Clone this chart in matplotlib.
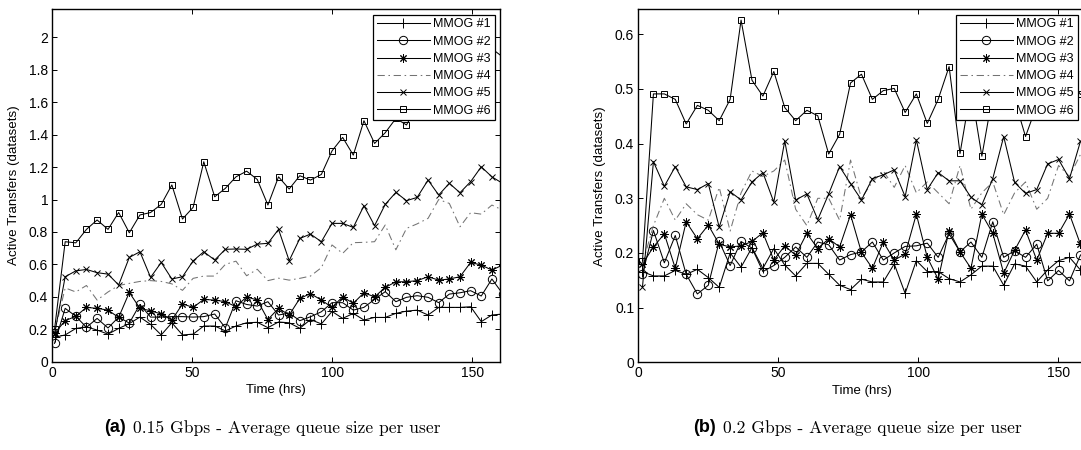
import numpy as np
import matplotlib
matplotlib.use('Agg')
import matplotlib.pyplot as plt

plt.rcParams['font.family'] = ['Liberation Sans', 'DejaVu Sans']

# sample times (hrs) of the two runs
hours_a = [0.8, 4.6, 8.4, 12.2, 16.0, 19.9, 23.7, 27.5, 31.3, 35.1, 38.9, 42.7, 46.5, 50.3,
           54.1, 58.0, 61.8, 65.6, 69.4, 73.2, 77.0, 80.8, 84.6, 88.4, 92.2, 96.1, 99.9,
           103.7, 107.5, 111.3, 115.1, 118.9, 122.7, 126.5, 130.3, 134.2, 138.0, 141.8,
           145.6, 149.4, 153.2, 157.0, 160.8]
hours_b = [1.5, 5.4, 9.3, 13.2, 17.1, 21.1, 25.0, 28.9, 32.8, 36.7, 40.6, 44.5, 48.4, 52.3,
           56.2, 60.2, 64.1, 68.0, 71.9, 75.8, 79.7, 83.6, 87.5, 91.4, 95.3, 99.3, 103.2,
           107.1, 111.0, 114.9, 118.8, 122.7, 126.6, 130.5, 134.4, 138.3, 142.3, 146.2,
           150.1, 154.0, 157.9, 161.8]

labels = ['MMOG #1', 'MMOG #2', 'MMOG #3', 'MMOG #4', 'MMOG #5', 'MMOG #6']

# (a) 0.15 Gbps
mmog1_a = [0.15, 0.165, 0.205, 0.215, 0.195, 0.17, 0.205, 0.235, 0.275, 0.23, 0.165, 0.24, 0.165,
           0.17, 0.22, 0.22, 0.19, 0.22, 0.24, 0.243, 0.21, 0.245, 0.24, 0.206, 0.26, 0.233, 0.31,
           0.267, 0.298, 0.257, 0.273, 0.273, 0.298, 0.312, 0.318, 0.288, 0.335, 0.335, 0.335,
           0.339, 0.247, 0.288, 0.294]
mmog2_a = [0.113, 0.329, 0.28, 0.212, 0.267, 0.208, 0.275, 0.238, 0.353, 0.275, 0.275, 0.278, 0.278,
           0.275, 0.278, 0.294, 0.209, 0.376, 0.353, 0.343, 0.37, 0.288, 0.30, 0.253, 0.277, 0.308,
           0.364, 0.364, 0.318, 0.335, 0.384, 0.432, 0.37, 0.397, 0.407, 0.397, 0.364, 0.417,
           0.425, 0.438, 0.405, 0.51, 0.42]
mmog3_a = [0.175, 0.253, 0.28, 0.335, 0.329, 0.318, 0.273, 0.427, 0.329, 0.314, 0.294, 0.257, 0.356,
           0.335, 0.384, 0.38, 0.37, 0.339, 0.40, 0.38, 0.26, 0.329, 0.288, 0.39, 0.42, 0.38, 0.335,
           0.40, 0.36, 0.425, 0.40, 0.458, 0.493, 0.493, 0.50, 0.524, 0.503, 0.51, 0.524, 0.612,
           0.596, 0.565, 0.596]
mmog4_a = [0.18, 0.455, 0.43, 0.47, 0.38, 0.43, 0.47, 0.483, 0.495, 0.5, 0.495, 0.48, 0.44, 0.514,
           0.528, 0.528, 0.6, 0.62, 0.53, 0.57, 0.5, 0.515, 0.503, 0.514, 0.528, 0.58, 0.72, 0.668,
           0.734, 0.736, 0.74, 0.843, 0.69, 0.822, 0.85, 0.884, 1.0, 0.976, 0.832, 0.919, 0.91,
           0.966, 0.935]
mmog5_a = [0.17, 0.524, 0.56, 0.569, 0.549, 0.54, 0.473, 0.643, 0.678, 0.52, 0.612, 0.51, 0.524,
           0.622, 0.678, 0.627, 0.693, 0.695, 0.693, 0.725, 0.73, 0.816, 0.623, 0.76, 0.787, 0.74,
           0.853, 0.853, 0.828, 0.962, 0.839, 0.97, 1.044, 0.993, 1.013, 1.12, 1.028, 1.10, 1.042,
           1.11, 1.202, 1.14, 1.10]
mmog6_a = [0.20, 0.74, 0.733, 0.816, 0.874, 0.816, 0.92, 0.795, 0.905, 0.92, 0.97, 1.09, 0.88,
           0.952, 1.233, 1.017, 1.069, 1.14, 1.175, 1.124, 0.966, 1.14, 1.065, 1.147, 1.12, 1.155,
           1.30, 1.383, 1.274, 1.486, 1.346, 1.412, 1.50, 1.46, 1.58, 1.55, 1.66, 1.62, 1.72,
           1.78, 1.74, 1.93, 1.88]

# (b) 0.2 Gbps
mmog1_b = [0.166, 0.158, 0.158, 0.168, 0.161, 0.17, 0.155, 0.137, 0.2, 0.174, 0.21, 0.172, 0.208,
           0.178, 0.158, 0.181, 0.181, 0.161, 0.141, 0.133, 0.152, 0.147, 0.147, 0.18, 0.126,
           0.186, 0.166, 0.166, 0.153, 0.147, 0.16, 0.176, 0.176, 0.141, 0.18, 0.176, 0.147,
           0.169, 0.186, 0.192, 0.169, 0.18]
mmog2_b = [0.161, 0.241, 0.182, 0.232, 0.161, 0.125, 0.141, 0.221, 0.177, 0.221, 0.209, 0.166,
           0.177, 0.192, 0.211, 0.192, 0.22, 0.215, 0.187, 0.197, 0.202, 0.22, 0.187, 0.2, 0.212,
           0.213, 0.218, 0.192, 0.235, 0.202, 0.22, 0.192, 0.257, 0.192, 0.204, 0.192, 0.216,
           0.149, 0.168, 0.149, 0.196, 0.21]
mmog3_b = [0.18, 0.211, 0.235, 0.172, 0.257, 0.226, 0.251, 0.216, 0.211, 0.213, 0.221, 0.237,
           0.187, 0.213, 0.196, 0.236, 0.208, 0.226, 0.211, 0.27, 0.201, 0.172, 0.22, 0.187, 0.198,
           0.271, 0.192, 0.152, 0.241, 0.202, 0.172, 0.271, 0.236, 0.163, 0.205, 0.242, 0.187,
           0.236, 0.236, 0.271, 0.216, 0.2]
mmog4_b = [0.18, 0.25, 0.30, 0.26, 0.29, 0.27, 0.26, 0.32, 0.24, 0.31, 0.35, 0.34, 0.35, 0.37,
           0.28, 0.25, 0.30, 0.30, 0.26, 0.37, 0.30, 0.33, 0.35, 0.32, 0.36, 0.31, 0.33, 0.31,
           0.29, 0.36, 0.28, 0.31, 0.33, 0.27, 0.31, 0.33, 0.28, 0.30, 0.36, 0.34, 0.38, 0.39]
mmog5_b = [0.138, 0.367, 0.322, 0.358, 0.321, 0.316, 0.327, 0.247, 0.312, 0.297, 0.33, 0.347,
           0.293, 0.405, 0.297, 0.308, 0.261, 0.308, 0.358, 0.327, 0.297, 0.336, 0.343, 0.352,
           0.303, 0.407, 0.316, 0.347, 0.332, 0.332, 0.302, 0.288, 0.336, 0.413, 0.329, 0.309,
           0.316, 0.363, 0.371, 0.336, 0.404, 0.42]
mmog6_b = [0.186, 0.491, 0.491, 0.481, 0.436, 0.47, 0.461, 0.442, 0.481, 0.626, 0.516, 0.487,
           0.532, 0.466, 0.442, 0.461, 0.451, 0.381, 0.417, 0.511, 0.527, 0.481, 0.497, 0.501,
           0.457, 0.491, 0.437, 0.481, 0.541, 0.382, 0.50, 0.377, 0.49, 0.52, 0.48, 0.413, 0.47,
           0.50, 0.46, 0.52, 0.49, 0.50]

series_a = [mmog1_a, mmog2_a, mmog3_a, mmog4_a, mmog5_a, mmog6_a]
series_b = [mmog1_b, mmog2_b, mmog3_b, mmog4_b, mmog5_b, mmog6_b]

yticks_a = [0, 0.2, 0.4, 0.6, 0.8, 1, 1.2, 1.4, 1.6, 1.8, 2]
yticks_b = [0, 0.1, 0.2, 0.3, 0.4, 0.5, 0.6]
xticks = [0, 50, 100, 150]

# marker / line style for each MMOG (matlab-ish), (8, 2, 0) = asterisk
styles = [
    dict(marker='+', color='k', ls='-', ms=6.5),
    dict(marker='o', color='k', ls='-', ms=6),
    dict(marker=(8, 2, 0), color='k', ls='-', ms=6),
    dict(marker='', color='0.45', ls=(0, (7, 3.5, 1.5, 3.5))),
    dict(marker='x', color='k', ls='-', ms=4.5),
    dict(marker='s', color='k', ls='-', ms=5),
]


def draw_panel(ax, hours, series, ylim, yticks, leg_x=1.0):
    for vals, st, lab in zip(series, styles, labels):
        ax.plot(hours, vals, marker=st['marker'], color=st['color'], ls=st['ls'],
                lw=0.75, ms=st.get('ms', 5), mfc='none', mec='k', mew=0.7, label=lab)
    ax.set_xlim(0, 160)
    ax.set_ylim(*ylim)
    ax.set_xticks(xticks)
    ax.set_yticks(yticks)
    ax.set_yticklabels(['%g' % t for t in yticks])
    ax.tick_params(direction='in', top=True, right=True, length=3.5, width=0.7,
                   labelsize=10, pad=3)
    for sp in ax.spines.values():
        sp.set_linewidth(1.0)
    ax.set_xlabel('Time (hrs)', fontsize=9.5, labelpad=3)
    ax.set_ylabel('Active Transfers (datasets)', fontsize=9.6, labelpad=6)
    leg = ax.legend(loc='upper right', bbox_to_anchor=(leg_x, 1.0), fontsize=9,
                    handlelength=4.2, handletextpad=0.3, borderpad=0.3, labelspacing=0.42,
                    borderaxespad=0.45, fancybox=False, framealpha=1, edgecolor='k')
    leg.get_frame().set_linewidth(0.9)


fig = plt.figure(figsize=(10.81, 4.5), dpi=100)
ax1 = fig.add_axes([0.04838, 0.19622, 0.41443, 0.78378])
draw_panel(ax1, hours_a, series_a, (0, 2.175), yticks_a)
# right panel runs a few pixels past the page edge, as in the original
ax2 = fig.add_axes([0.59047, 0.19489, 0.41443, 0.78511])
draw_panel(ax2, hours_b, series_b, (0, 0.6463), yticks_b, leg_x=1 - 3 / 448)

# sub captions: bold sans label + serif (computer modern) text
cap_y = 1 - 428 / 450
fig.text(126 / 1081, cap_y, '(a)', ha='right', va='center', fontsize=13, fontweight='bold',
         family=['Liberation Sans Narrow', 'Liberation Sans'])
fig.text(133 / 1081, cap_y, '0.15 Gbps - Average queue size per user', ha='left', va='center',
         fontsize=12.6, family=['cmr10', 'DejaVu Serif'])
fig.text(716 / 1081, cap_y, '(b)', ha='right', va='center', fontsize=13, fontweight='bold',
         family=['Liberation Sans Narrow', 'Liberation Sans'])
fig.text(723 / 1081, cap_y, '0.2 Gbps - Average queue size per user', ha='left', va='center',
         fontsize=12.6, family=['cmr10', 'DejaVu Serif'])

fig.savefig('out.png', dpi=100)
